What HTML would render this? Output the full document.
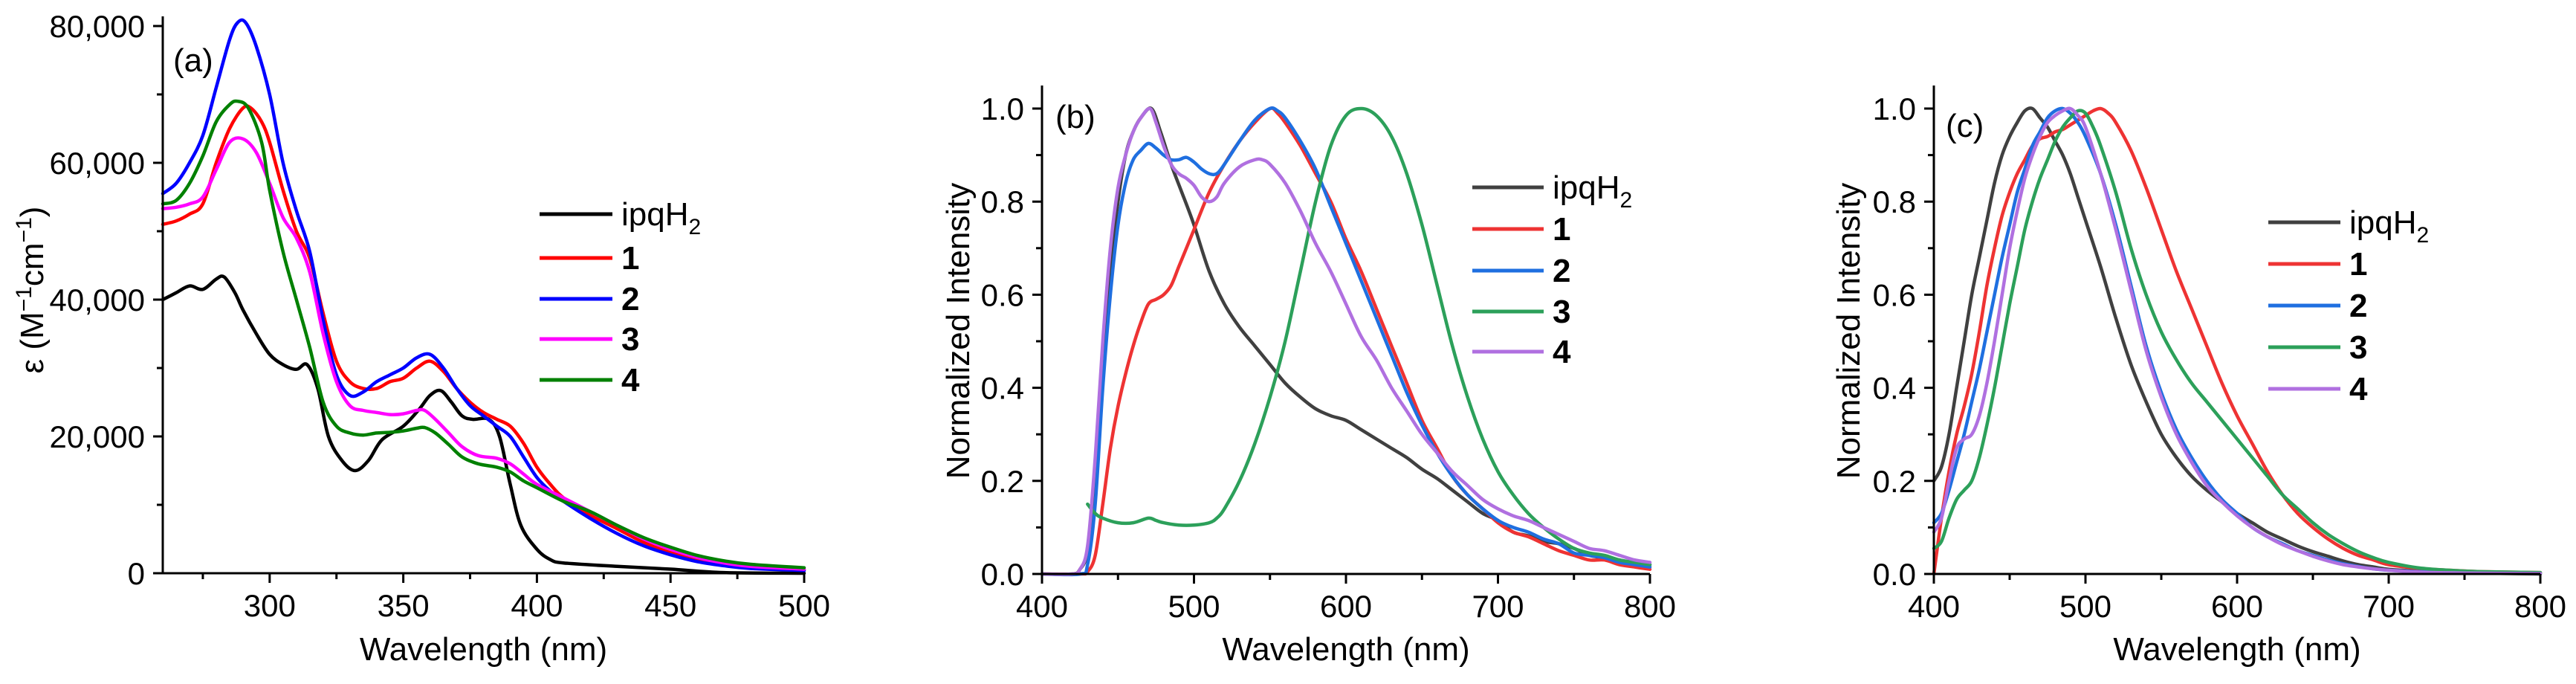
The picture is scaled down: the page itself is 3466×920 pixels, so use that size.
<!DOCTYPE html>
<html><head><meta charset="utf-8"><style>
html,body{margin:0;padding:0;background:#fff;}
svg{display:block;font-family:"Liberation Sans",Arial,sans-serif;}
</style></head><body>
<svg id="fig" width="3466" height="920" viewBox="0 0 3466 920" xmlns="http://www.w3.org/2000/svg"></svg>
<script>
// ---------- Panel (a) data: absorption, epsilon in thousands ----------
const aWl_ipq=[260,265,270,275,280,283,287,290,295,300,305,310,314,318,322,327,332,337,342,350,356,360,364,368,372,376,382,386,390,394,400,405,410,430,450,470,500];
const aVal_ipq=[40,41,42,41.5,43,43.3,41,38.5,35,32,30.5,29.8,30.5,27,20,16.5,15,16.5,19.5,21.5,24,26,26.7,25,23,22.5,22.5,20,13,7,3.5,2,1.5,1,0.6,0.1,0];
const aWl_1=[260,265,270,275,280,285,290,293,297,300,305,310,315,320,325,330,335,340,345,350,355,360,365,370,375,380,385,390,395,400,405,410,420,430,440,450,460,470,480,500];
const aVal_1=[51,51.5,52.5,54,60,65,68,68,66,63,56,50,46,38,31,28,27,27,28,28.5,30,31,29.5,27,25,23.5,22.5,21.5,19,15.5,13,11,8.5,6.5,4.5,3,2,1.2,0.9,0.5];
const aWl_2=[260,265,270,275,280,285,288,291,295,300,305,310,315,320,325,330,335,340,345,350,355,360,365,370,375,380,385,390,395,400,405,410,420,430,440,450,460,470,480,500];
const aVal_2=[55.5,57,60,64,71,78,80.5,80.5,77,70,60,53,47,37,29,26,26.5,28,29,30,31.5,32,30,27,24.5,23,21.5,20,17,14,12,10.5,8,5.8,4,2.7,1.7,1.1,0.7,0.4];
const aWl_3=[260,265,270,275,280,285,290,295,300,305,310,315,320,325,330,335,340,345,350,355,358,362,367,372,378,385,390,395,400,410,420,430,440,450,460,470,480,500];
const aVal_3=[53.3,53.5,54,55,59,63,63.5,61.5,57,52,49,44,35,28,24.5,23.8,23.5,23.2,23.3,23.8,23.8,22.5,20.5,18.5,17.2,16.8,16,14.5,13,11,9,7,5,3.5,2.3,1.5,1,0.6];
const aWl_4=[260,265,270,275,280,285,288,292,297,300,305,310,315,320,325,330,335,340,345,350,355,358,362,367,372,378,385,390,395,400,410,420,430,440,450,460,470,480,500];
const aVal_4=[54,54.5,57,61,66,68.5,69,68,63,56,47,40,33,25,21.5,20.5,20.2,20.5,20.6,20.8,21.2,21.3,20.5,18.8,17,16,15.5,14.8,13.5,12.5,10.5,9,7,5.2,3.8,2.6,1.8,1.3,0.8];
const aXTicks=[300,350,400,450,500];
const aYTicks=[0,20,40,60,80];
const aYTickLabels=["0","20,000","40,000","60,000","80,000"];

// ---------- Panel (b) data: emission (normalized) ----------
const bWl_ipq=[400,420,425,430,435,440,445,450,455,460,465,472,478,485,492,500,510,520,530,540,550,560,570,580,590,600,610,620,630,640,650,660,670,680,690,700,710,720,730,740,750,760,770,780,790,800];
const bVal_ipq=[0,0,0.01,0.05,0.2,0.45,0.65,0.8,0.9,0.95,0.98,1.0,0.95,0.88,0.82,0.75,0.65,0.58,0.53,0.49,0.45,0.41,0.38,0.355,0.34,0.33,0.31,0.29,0.27,0.25,0.225,0.205,0.18,0.155,0.13,0.115,0.09,0.082,0.07,0.065,0.055,0.04,0.035,0.03,0.02,0.02];
const bWl_1=[400,425,430,435,440,445,450,455,460,465,470,475,480,485,490,495,500,510,520,530,540,550,555,560,570,580,590,600,610,620,630,640,650,660,670,680,690,700,710,720,730,740,750,760,770,780,790,800];
const bVal_1=[0,0,0.005,0.04,0.15,0.27,0.36,0.43,0.49,0.54,0.58,0.59,0.6,0.62,0.66,0.7,0.74,0.82,0.88,0.93,0.97,1.0,0.99,0.97,0.92,0.86,0.8,0.72,0.65,0.57,0.49,0.41,0.33,0.27,0.21,0.17,0.14,0.11,0.09,0.08,0.065,0.05,0.04,0.03,0.03,0.02,0.015,0.01];
const bWl_2=[400,425,430,435,440,445,450,455,460,465,470,475,480,485,490,495,500,505,510,515,520,530,540,550,555,560,570,580,590,600,610,620,630,640,650,660,670,680,690,700,710,720,730,740,750,760,770,780,790,800];
const bVal_2=[0,0,0.02,0.15,0.4,0.6,0.75,0.84,0.89,0.91,0.925,0.915,0.9,0.89,0.89,0.895,0.885,0.87,0.86,0.86,0.88,0.93,0.975,1.0,0.995,0.98,0.93,0.87,0.79,0.71,0.63,0.55,0.47,0.39,0.32,0.26,0.21,0.17,0.14,0.115,0.1,0.09,0.075,0.065,0.045,0.04,0.035,0.025,0.02,0.015];
const bWl_3=[430,435,440,450,460,470,475,480,490,500,510,515,520,530,540,550,560,570,580,590,600,610,620,630,640,650,660,670,680,690,700,710,720,730,740,750,760,770,780,790,800];
const bVal_3=[0.15,0.13,0.12,0.11,0.11,0.12,0.115,0.11,0.105,0.105,0.11,0.12,0.14,0.2,0.28,0.38,0.5,0.65,0.8,0.92,0.985,1.0,0.985,0.94,0.86,0.75,0.62,0.49,0.38,0.29,0.22,0.17,0.13,0.1,0.075,0.055,0.045,0.04,0.03,0.025,0.02];
const bWl_4=[400,420,425,430,435,440,445,450,455,460,465,471,475,480,485,490,495,500,505,510,515,520,530,540,545,550,560,570,580,590,600,610,620,630,640,650,660,670,680,690,700,710,720,730,740,750,760,770,780,790,800];
const bVal_4=[0,0,0.01,0.06,0.25,0.5,0.7,0.83,0.9,0.95,0.98,1.0,0.97,0.92,0.88,0.86,0.85,0.835,0.81,0.8,0.81,0.84,0.875,0.89,0.89,0.88,0.84,0.78,0.71,0.65,0.58,0.51,0.46,0.4,0.35,0.3,0.26,0.22,0.19,0.16,0.14,0.125,0.115,0.1,0.085,0.07,0.055,0.05,0.04,0.03,0.025];

// ---------- Panel (c) data ----------
const cWl_ipq=[400,405,410,415,420,425,430,435,440,445,450,455,460,465,470,475,480,485,490,495,500,510,520,530,540,550,560,570,580,590,600,610,620,630,640,650,660,670,680,690,700,720,740,800];
const cVal_ipq=[0.2,0.23,0.3,0.4,0.5,0.6,0.68,0.76,0.84,0.9,0.94,0.97,0.995,1.0,0.98,0.96,0.93,0.9,0.86,0.81,0.76,0.66,0.55,0.45,0.37,0.3,0.25,0.21,0.18,0.155,0.13,0.11,0.09,0.075,0.06,0.048,0.038,0.028,0.02,0.015,0.01,0.006,0.003,0];
const cWl_1=[400,405,410,415,420,425,430,435,440,445,450,455,460,465,470,475,480,485,490,495,500,505,510,515,520,530,540,550,560,570,580,590,600,610,620,630,640,650,660,670,680,690,700,720,740,760,800];
const cVal_1=[0,0.12,0.22,0.3,0.36,0.43,0.52,0.62,0.7,0.77,0.82,0.86,0.89,0.92,0.935,0.94,0.95,0.955,0.965,0.975,0.985,0.995,1.0,0.99,0.97,0.91,0.83,0.74,0.65,0.57,0.49,0.41,0.34,0.28,0.22,0.17,0.13,0.1,0.075,0.055,0.04,0.03,0.02,0.012,0.008,0.005,0.003];
const cWl_2=[400,405,410,415,420,425,430,435,440,445,450,455,460,465,470,475,480,485,490,495,500,510,520,530,540,550,560,570,580,590,600,610,620,630,640,650,660,670,680,690,700,720,750,800];
const cVal_2=[0.11,0.13,0.18,0.24,0.3,0.37,0.44,0.52,0.6,0.68,0.75,0.82,0.87,0.92,0.95,0.98,0.995,1.0,0.99,0.97,0.94,0.86,0.75,0.62,0.49,0.39,0.31,0.25,0.2,0.16,0.13,0.1,0.08,0.065,0.05,0.04,0.03,0.022,0.016,0.011,0.008,0.005,0.003,0.002];
const cWl_3=[400,405,410,415,420,425,430,435,440,445,450,455,460,465,470,475,480,485,490,495,500,505,510,520,530,540,550,560,570,580,590,600,610,620,630,640,650,660,670,680,690,700,720,740,760,800];
const cVal_3=[0.055,0.07,0.12,0.16,0.18,0.2,0.25,0.32,0.4,0.49,0.58,0.66,0.74,0.8,0.85,0.89,0.93,0.96,0.98,0.995,0.99,0.96,0.92,0.82,0.7,0.6,0.52,0.46,0.41,0.37,0.33,0.29,0.25,0.21,0.17,0.14,0.11,0.085,0.065,0.048,0.035,0.025,0.013,0.008,0.005,0.003];
const cWl_4=[400,405,410,415,420,425,430,435,440,445,450,455,460,465,470,475,480,485,490,495,500,510,520,530,540,550,560,570,580,590,600,610,620,630,640,650,660,670,680,690,700,720,750,800];
const cVal_4=[0.09,0.12,0.2,0.27,0.29,0.3,0.34,0.41,0.5,0.6,0.7,0.78,0.85,0.9,0.94,0.97,0.985,0.995,1.0,0.985,0.96,0.86,0.74,0.61,0.48,0.38,0.3,0.24,0.19,0.155,0.125,0.1,0.08,0.063,0.05,0.038,0.028,0.02,0.015,0.011,0.008,0.004,0.002,0.001];

const bcXTicks=[400,500,600,700,800];
const bcYTicks=[0,0.2,0.4,0.6,0.8,1.0];
const bcYTickLabels=["0.0","0.2","0.4","0.6","0.8","1.0"];
const seriesNames=["ipqH2","1","2","3","4"];

const NS="http://www.w3.org/2000/svg";
const svg=document.getElementById('fig');
function mk(tag,attrs,parent){const e=document.createElementNS(NS,tag);for(const k in attrs)e.setAttribute(k,attrs[k]);(parent||svg).appendChild(e);return e;}
function smoothPath(pts){
  let d="M"+pts[0][0].toFixed(1)+","+pts[0][1].toFixed(1);
  for(let i=0;i<pts.length-1;i++){
    const p0=pts[i-1]||pts[i],p1=pts[i],p2=pts[i+1],p3=pts[i+2]||p2;
    const c1x=p1[0]+(p2[0]-p0[0])/6,c1y=p1[1]+(p2[1]-p0[1])/6;
    const c2x=p2[0]-(p3[0]-p1[0])/6,c2y=p2[1]-(p3[1]-p1[1])/6;
    d+=" C"+c1x.toFixed(1)+","+c1y.toFixed(1)+" "+c2x.toFixed(1)+","+c2y.toFixed(1)+" "+p2[0].toFixed(1)+","+p2[1].toFixed(1);
  }
  return d;
}

function panel(cfg){
  const g=mk('g',{});
  
  
  const X=v=>cfg.x0+(v-cfg.xmin)/(cfg.xmax-cfg.xmin)*(cfg.x1-cfg.x0);
  const Y=v=>cfg.y0-(v-cfg.ymin)/(cfg.ymax-cfg.ymin)*(cfg.y0-cfg.y1);
  // series
  cfg.series.forEach((s,i)=>{
    const pts=s.wl.map((w,j)=>[X(w),Y(s.val[j])]);
    const p=mk('path',{d:smoothPath(pts),fill:'none',stroke:s.color,'stroke-width':4.5,'stroke-linejoin':'round','stroke-linecap':'round'},g);
    
    
  });
  // axes
  const ax=mk('path',{d:`M${cfg.x0},${cfg.ytop} V${cfg.y0} H${cfg.x1}`,fill:'none',stroke:'#000','stroke-width':3},g);
  
  
  // x ticks
  cfg.xTicks.forEach((t,i)=>{
    const x=X(t);
    mk('line',{x1:x,y1:cfg.y0,x2:x,y2:cfg.y0+13,stroke:'#000','stroke-width':3},g);
    if(i<cfg.xTicks.length-1){const xm=X((t+cfg.xTicks[i+1])/2);mk('line',{x1:xm,y1:cfg.y0,x2:xm,y2:cfg.y0+8,stroke:'#000','stroke-width':3},g);}
    const tx=mk('text',{x:x,y:cfg.y0+58,'font-size':42,'text-anchor':'middle',fill:'#000'},g);
    tx.textContent=t;
    
    
  });
  if(cfg.xMinorStart!==undefined){const xm=X(cfg.xMinorStart);mk('line',{x1:xm,y1:cfg.y0,x2:xm,y2:cfg.y0+8,stroke:'#000','stroke-width':3},g);}
  // y ticks
  cfg.yTicks.forEach((t,i)=>{
    const y=Y(t);
    mk('line',{x1:cfg.x0-13,y1:y,x2:cfg.x0,y2:y,stroke:'#000','stroke-width':3},g);
    if(i<cfg.yTicks.length-1){const ym=Y((t+cfg.yTicks[i+1])/2);mk('line',{x1:cfg.x0-8,y1:ym,x2:cfg.x0,y2:ym,stroke:'#000','stroke-width':3},g);}
    const tx=mk('text',{x:cfg.x0-24,y:y+15,'font-size':42,'text-anchor':'end',fill:'#000'},g);
    tx.textContent=cfg.yTickLabels[i];
    
    
  });
  // axis titles
  const xt=mk('text',{x:(cfg.x0+cfg.x1)/2,y:888,'font-size':44,'text-anchor':'middle',fill:'#000'},g);
  xt.textContent='Wavelength (nm)';
  
  
  const yt=mk('text',{x:0,y:0,'font-size':44,'text-anchor':'middle',fill:'#000',transform:`translate(${cfg.ytx},${cfg.yty}) rotate(-90)`},g);
  yt.innerHTML=cfg.ytitle;
  
  
  // panel label
  const pl=mk('text',{x:cfg.plx,y:cfg.ply,'font-size':44,fill:'#000'},g);
  pl.textContent=cfg.label;
  
  
  // legend
  const lg=mk('g',{},g);
  
  
  cfg.series.forEach((s,i)=>{
    const y=cfg.legY[i];
    const e=mk('g',{},lg);
    
    
    mk('line',{x1:cfg.legX0,y1:y,x2:cfg.legX1,y2:y,stroke:s.color,'stroke-width':5},e);
    const t=mk('text',{x:cfg.legX1+12,y:y+15,'font-size':44,fill:'#000'},e);
    if(i===0){t.innerHTML='ipqH<tspan font-size="30" dy="12">2</tspan>';}
    else{t.setAttribute('font-weight','bold');t.textContent=seriesNames[i];}
  });
}

panel({name:'panel-a-absorption',x0:219,x1:1082,xmin:260,xmax:500,y0:771,y1:35,ytop:22,ymin:0,ymax:80,
  xTicks:aXTicks,xMinorStart:275,yTicks:aYTicks,yTickLabels:aYTickLabels,
  ytitle:'ε (M<tspan font-size="30" dy="-16">−1</tspan><tspan dy="16">cm</tspan><tspan font-size="30" dy="-16">−1</tspan><tspan dy="16">)</tspan>',ytx:58,yty:390,
  label:'(a)',plx:233,ply:96,legX0:726,legX1:824,legY:[288,347,402,456,511],
  series:[{wl:aWl_ipq,val:aVal_ipq,color:'#000000'},{wl:aWl_1,val:aVal_1,color:'#ff0000'},{wl:aWl_2,val:aVal_2,color:'#0000ff'},{wl:aWl_3,val:aVal_3,color:'#ff00ff'},{wl:aWl_4,val:aVal_4,color:'#008000'}]});

const bcColors=['#404040','#ee3333','#1f6fe0','#2ca05a','#b070e0'];
panel({name:'panel-b-emission',x0:1402,x1:2220,xmin:400,xmax:800,y0:772,y1:146,ytop:115,ymin:0,ymax:1,
  xTicks:bcXTicks,yTicks:bcYTicks,yTickLabels:bcYTickLabels,
  ytitle:'Normalized Intensity',ytx:1304,yty:445,
  label:'(b)',plx:1420,ply:172,legX0:1981,legX1:2077,legY:[252,308,364,419,473],
  series:[{wl:bWl_ipq,val:bVal_ipq,color:bcColors[0]},{wl:bWl_1,val:bVal_1,color:bcColors[1]},{wl:bWl_2,val:bVal_2,color:bcColors[2]},{wl:bWl_3,val:bVal_3,color:bcColors[3]},{wl:bWl_4,val:bVal_4,color:bcColors[4]}]});

panel({name:'panel-c-emission',x0:2602,x1:3418,xmin:400,xmax:800,y0:772,y1:146,ytop:115,ymin:0,ymax:1,
  xTicks:bcXTicks,yTicks:bcYTicks,yTickLabels:bcYTickLabels,
  ytitle:'Normalized Intensity',ytx:2502,yty:445,
  label:'(c)',plx:2618,ply:184,legX0:3052,legX1:3149,legY:[299,355,411,467,523],
  series:[{wl:cWl_ipq,val:cVal_ipq,color:bcColors[0]},{wl:cWl_1,val:cVal_1,color:bcColors[1]},{wl:cWl_2,val:cVal_2,color:bcColors[2]},{wl:cWl_3,val:cVal_3,color:bcColors[3]},{wl:cWl_4,val:cVal_4,color:bcColors[4]}]});
</script>
</body></html>
